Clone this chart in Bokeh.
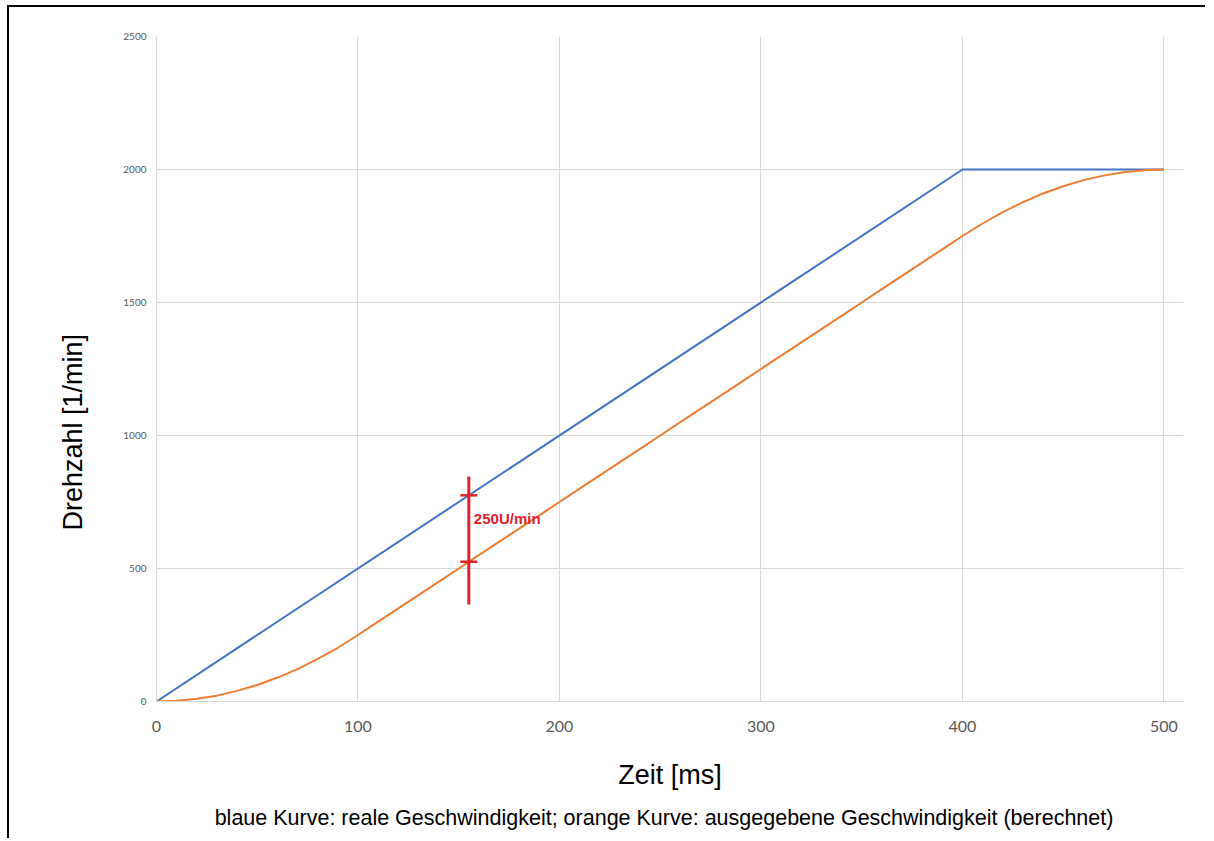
from bokeh.plotting import figure
from bokeh.models import Range1d, Title, FixedTicker
from bokeh.core.properties import value
from bokeh.embed import file_html
from bokeh.resources import INLINE

# ---- data ----
time_blue = [0, 400, 500]
speed_blue = [0, 2000, 2000]

time_orange = [0, 10, 20, 30, 40, 50, 60, 70, 80, 90, 100,
               110, 120, 130, 140, 150, 160, 170, 180, 190, 200,
               210, 220, 230, 240, 250, 260, 270, 280, 290, 300,
               310, 320, 330, 340, 350, 360, 370, 380, 390, 400,
               410, 420, 430, 440, 450, 460, 470, 480, 490, 500]
speed_orange = [0, 3, 10, 22, 40, 62, 90, 122, 160, 202, 250,
                300, 350, 400, 450, 500, 550, 600, 650, 700, 750,
                800, 850, 900, 950, 1000, 1050, 1100, 1150, 1200, 1250,
                1300, 1350, 1400, 1450, 1500, 1550, 1600, 1650, 1700, 1750,
                1797, 1840, 1877, 1910, 1937, 1960, 1977, 1990, 1997, 2000]

x_ticks = [0, 100, 200, 300, 400, 500]
y_ticks = [0, 500, 1000, 1500, 2000, 2500]

# difference marker
diff_time = 155
diff_top = 775
diff_bottom = 525
diff_extent = [365, 846]
diff_text = "250U/min"
diff_text_y = 688

x_label = "Zeit [ms]"
y_label = "Drehzahl [1/min]"
caption = "blaue Kurve: reale Geschwindigkeit;   orange Kurve: ausgegebene Geschwindigkeit (berechnet)"

BLUE = "#4472C4"
ORANGE = "#ED7D31"
RED = "#E3202B"
GRID = "#D9D9D9"

p = figure(width=1198, height=833, output_backend="svg", toolbar_location=None,
           x_range=Range1d(0, 509.7), y_range=Range1d(0, 2500),
           min_border_left=147, min_border_right=24, min_border_top=29,
           min_border_bottom=139)
p.styles = {"border-top": "2px solid black", "border-left": "2px solid black",
            "margin-top": "5px", "margin-left": "7px"}
p.outline_line_color = None
p.background_fill_color = "white"
p.border_fill_color = "white"

for ax in (p.xaxis[0], p.yaxis[0]):
    ax.axis_line_color = GRID
    ax.major_tick_line_color = None
    ax.minor_tick_line_color = None
    ax.major_tick_out = 0
    ax.major_tick_in = 0
    ax.major_label_text_color = "#595959"
    ax.major_label_text_font = "Lato"

p.xaxis.ticker = FixedTicker(ticks=x_ticks)
p.yaxis.ticker = FixedTicker(ticks=y_ticks)
p.xaxis.major_label_text_font_size = "16px"
p.xaxis.major_label_standoff = 19
p.yaxis.major_label_text_font_size = "10px"
p.yaxis.major_label_standoff = 10

p.xaxis.axis_label = x_label
p.xaxis.axis_label_text_font = "Liberation Sans"
p.xaxis.axis_label_text_font_style = "normal"
p.xaxis.axis_label_text_font_size = "27px"
p.xaxis.axis_label_text_color = "black"
p.xaxis.axis_label_standoff = 25

p.xgrid.ticker = FixedTicker(ticks=x_ticks)
p.ygrid.ticker = FixedTicker(ticks=y_ticks)
p.xgrid.grid_line_color = GRID
p.ygrid.grid_line_color = GRID

ytitle = Title(text=y_label, align="left", offset=171, text_font="Liberation Sans",
               text_font_size="27px", text_font_style="normal", text_color="black",
               standoff=65)
p.add_layout(ytitle, "left")

cap = Title(text=caption, align="center", text_font="Liberation Sans",
            text_font_size="21.5px", text_font_style="normal", text_color="black",
            offset=0, standoff=22)
p.add_layout(cap, "below")

p.line(time_blue, speed_blue, line_color=BLUE, line_width=2)
p.line(time_orange, speed_orange, line_color=ORANGE, line_width=2)

# difference marker
p.segment(x0=[diff_time], y0=[diff_extent[0]], x1=[diff_time], y1=[diff_extent[1]],
          line_color=RED, line_width=3)
p.segment(x0=[diff_time - 4.2, diff_time - 4.2], y0=[diff_top, diff_bottom],
          x1=[diff_time + 4.2, diff_time + 4.2], y1=[diff_top, diff_bottom],
          line_color=RED, line_width=2.5)
p.text(x=[diff_time + 2.5], y=[diff_text_y], text=[diff_text],
       text_color=RED, text_font=value("Liberation Sans"), text_font_style="bold",
       text_font_size="15px", text_align="left", text_baseline="middle")

open("out.html", "w").write(file_html(p, INLINE))
